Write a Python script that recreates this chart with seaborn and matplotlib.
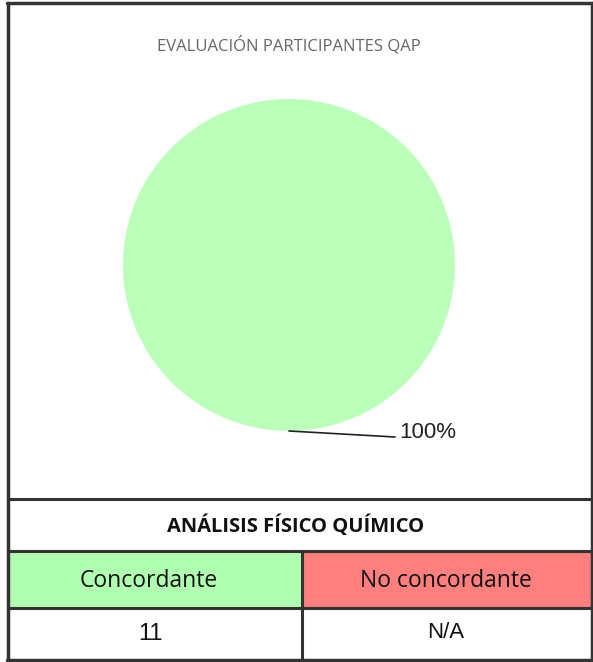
import matplotlib
matplotlib.use("Agg")
import matplotlib.pyplot as plt
import seaborn as sns
from matplotlib.patches import Rectangle

sns.set_theme(style="white")
plt.rcParams['font.family'] = ['Open Sans', 'DejaVu Sans']

title = "EVALUACIÓN PARTICIPANTES QAP"
table_title = "ANÁLISIS FÍSICO QUÍMICO"
categories = ["Concordante", "No concordante"]
counts = [11, 0]
count_labels = ["11", "N/A"]
pie_color = "#BBFFBB"
cell_colors = ["#B0FFB0", "#FF7F7F"]

W, H = 593, 662
fig = plt.figure(figsize=(W / 100, H / 100), dpi=100)
ax = fig.add_axes([0, 0, 1, 1])

def Y(py):
    return H - py

# pie (only non-zero slices)
vals = [v for v in counts if v > 0]
total = sum(counts)
ax.pie(vals, colors=[pie_color], center=(289, Y(265)), radius=166,
       startangle=90, frame=True, wedgeprops=dict(linewidth=0))
ax.set_xlim(0, W)
ax.set_ylim(0, H)
ax.set_aspect("auto")
ax.axis("off")

pct = f"{round(100 * vals[0] / total)}%"
ax.plot([289, 395], [Y(431), Y(437)], color="#222222", lw=1.2)
ax.text(399, Y(432), pct, ha="left", va="center", fontsize=16, color="#222222",
        family=["Liberation Sans"])

ax.text(289, Y(45), title, ha="center", va="center", fontsize=12, color="#666666")

# table cells
L, R, M = 8, 592, 302
ax.add_patch(Rectangle((L, Y(608)), M - L, 57, color=cell_colors[0], lw=0))
ax.add_patch(Rectangle((M, Y(608)), R - M, 57, color=cell_colors[1], lw=0))

lc = "#333333"
for yy in (499, 551, 608):
    ax.plot([L, R], [Y(yy), Y(yy)], color=lc, lw=2.2, solid_capstyle="butt")
ax.plot([M, M], [Y(551), Y(660)], color=lc, lw=2.2)
# outer border
ax.plot([L, L], [Y(3), Y(660)], color=lc, lw=2.5)
ax.plot([R, R], [Y(3), Y(660)], color=lc, lw=2.5)
ax.plot([L - 1, R + 1], [Y(3), Y(3)], color=lc, lw=2.5)
ax.plot([L - 1, R + 1], [Y(660), Y(660)], color=lc, lw=2.5)

ax.text(296, Y(526), table_title, ha="center", va="center", fontsize=14.5,
        fontweight="bold", color="#111111")
ax.text(149, Y(581), categories[0], ha="center", va="center", fontsize=16.5, color="#111111")
ax.text(446, Y(581), categories[1], ha="center", va="center", fontsize=16.5, color="#111111")
ax.text(151, Y(634), count_labels[0], ha="center", va="center", fontsize=17,
        color="#111111", family=["Liberation Sans"])
ax.text(446, Y(632), count_labels[1], ha="center", va="center", fontsize=16,
        color="#111111", family=["Liberation Sans"])

fig.savefig("out.png", dpi=100, facecolor="white")
